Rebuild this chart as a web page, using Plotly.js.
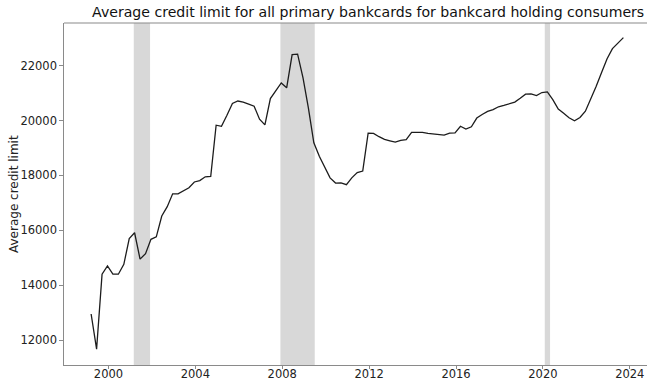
<!DOCTYPE html>
<html>
<head>
<meta charset="utf-8">
<script src="https://cdn.plot.ly/plotly-3.0.1.min.js"></script>
<style>html,body{margin:0;padding:0;background:#fff;}#chart{width:647px;height:380px;}</style>
</head>
<body>
<div id="chart"></div>
<script>
// Quarterly observations, starting 1999 Q1
const startYear = 1999;
const creditLimit = [
  12950, 11670, 14400, 14700, 14400, 14400, 14760, 15700,
  15910, 14950, 15150, 15670, 15760, 16520, 16860, 17330,
  17330, 17450, 17550, 17760, 17810, 17950, 17960, 19830,
  19790, 20190, 20620, 20710, 20670, 20600, 20520, 20050,
  19840, 20800, 21070, 21370, 21190, 22400, 22420, 21550,
  20460, 19190, 18700, 18280, 17910, 17720, 17730, 17660,
  17910, 18100, 18160, 19540, 19530, 19410, 19310, 19260,
  19210, 19280, 19300, 19570, 19580, 19570, 19530, 19510,
  19480, 19470, 19540, 19550, 19790, 19690, 19770, 20090,
  20220, 20330, 20400, 20500, 20550, 20600, 20670, 20810,
  20960, 20970, 20910, 21020, 21040, 20760, 20420, 20260,
  20100, 19990, 20110, 20340, 20780, 21250, 21760, 22250,
  22620, 22840, 23020
];
const recessionStart = ["2001-03-01", "2007-12-01", "2020-02-01"];
const recessionEnd   = ["2001-11-30", "2009-06-30", "2020-04-30"];
const yTicks = [12000, 14000, 16000, 18000, 20000, 22000];
const xTickYears = [2000, 2004, 2008, 2012, 2016, 2020, 2024];

const quarterMonths = ["03", "06", "09", "12"];
const dates = creditLimit.map((_, i) => {
  const y = startYear + Math.floor(i / 4);
  return y + "-" + quarterMonths[i % 4] + "-15";
});

const font = "DejaVu Sans, Liberation Sans, sans-serif";

const shapes = recessionStart.map((s, k) => ({
  type: "rect", xref: "x", yref: "paper", x0: s, x1: recessionEnd[k], y0: 0, y1: 1,
  fillcolor: "#d8d8d8", line: {width: 0}, layer: "below"
}));
shapes.push({type: "line", xref: "paper", yref: "paper", x0: 0, x1: 1, y0: 1, y1: 1,
  line: {color: "#8a8a8a", width: 1.2}});

const trace = {
  x: dates, y: creditLimit, type: "scatter", mode: "lines",
  line: {color: "#1c1c1c", width: 1.3}, hoverinfo: "skip"
};

const layout = {
  width: 647, height: 380,
  margin: {l: 64, r: 0, t: 23, b: 15, pad: 0},
  paper_bgcolor: "#ffffff", plot_bgcolor: "#ffffff",
  showlegend: false,
  font: {family: font, size: 12, color: "#222"},
  title: {text: "Average credit limit for all primary bankcards for bankcard holding consumers",
    font: {family: font, size: 14.1, color: "#111"}, xref: "container", x: 0.569, xanchor: "center",
    yref: "container", y: 0.982, yanchor: "top"},
  xaxis: {
    type: "date", range: ["1997-12-14", "2024-10-16"],
    tickvals: xTickYears.map(y => y + "-01-01"), ticktext: xTickYears.map(String),
    showgrid: false, zeroline: false, showline: true, linecolor: "#8a8a8a", linewidth: 1.2,
    ticks: "outside", ticklen: 3, tickcolor: "#8a8a8a", tickwidth: 1,
    ticklabelstandoff: -5,
    tickfont: {family: font, size: 11.5, color: "#222"}, automargin: false
  },
  yaxis: {
    range: [11091, 23553], tickvals: yTicks, ticktext: yTicks.map(String),
    showgrid: false, zeroline: false, showline: true, linecolor: "#8a8a8a", linewidth: 1.2,
    ticks: "outside", ticklen: 3.5, tickcolor: "#8a8a8a", tickwidth: 1,
    tickfont: {family: font, size: 11.5, color: "#222"}, automargin: false
  },
  annotations: [{
    text: "Average credit limit", textangle: -90, showarrow: false,
    xref: "paper", x: -50 / 583, xanchor: "center", yref: "paper", y: 0.5, yanchor: "middle",
    font: {family: font, size: 12, color: "#222"}
  }],
  shapes: shapes
};

Plotly.newPlot("chart", [trace], layout, {staticPlot: true, displayModeBar: false});
</script>
</body>
</html>
